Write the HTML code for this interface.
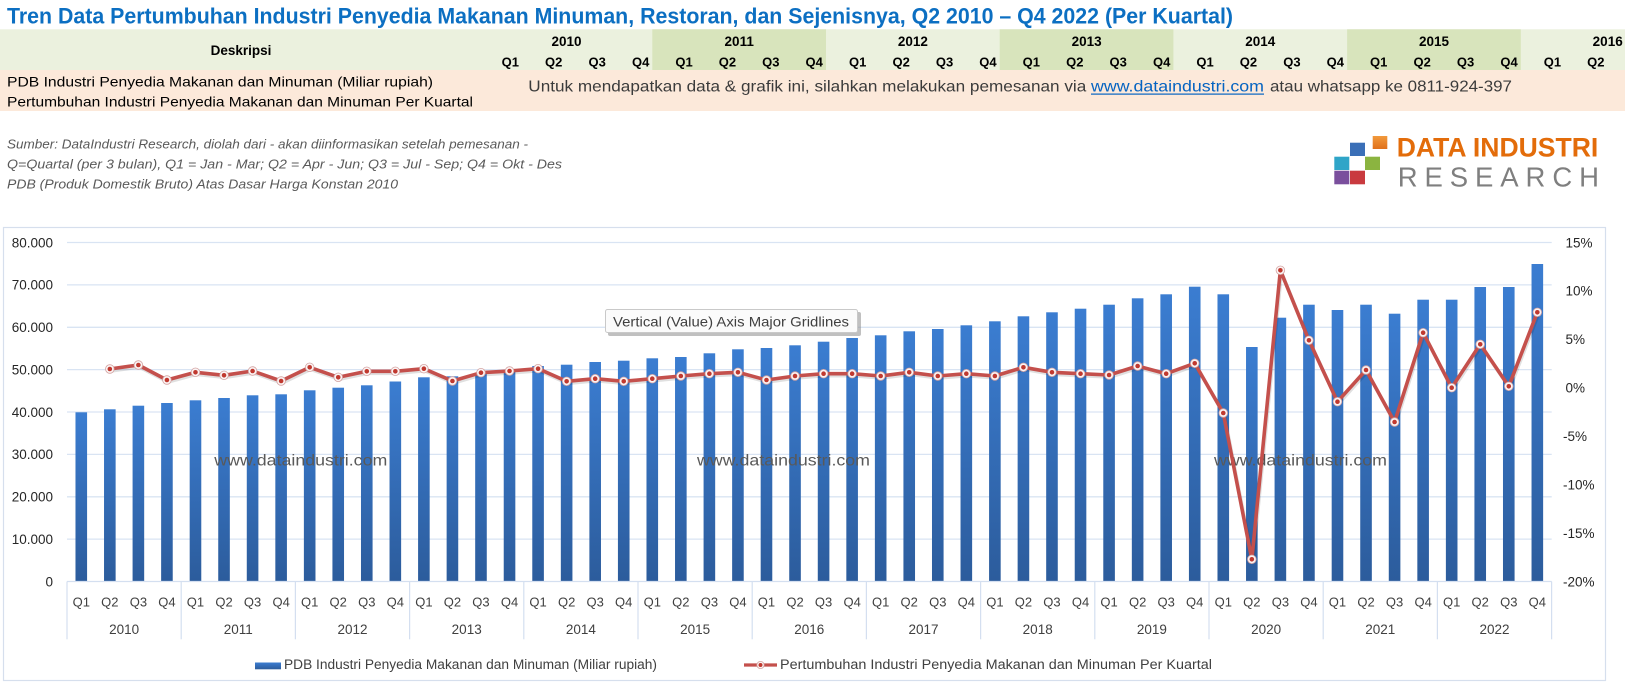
<!DOCTYPE html>
<html>
<head>
<meta charset="utf-8">
<style>
html,body{margin:0;padding:0;background:#fff;}
svg{display:block;}
text{font-family:"Liberation Sans",Arial,sans-serif;}
</style>
</head>
<body>
<svg width="1625" height="685" viewBox="0 0 1625 685" xmlns="http://www.w3.org/2000/svg">
<defs>
<linearGradient id="bar" x1="0" y1="0" x2="0" y2="1">
<stop offset="0" stop-color="#3b7dd1"/>
<stop offset="1" stop-color="#2c5c9c"/>
</linearGradient>
<linearGradient id="og" x1="0" y1="0" x2="0" y2="1"><stop offset="0" stop-color="#f29a3c"/><stop offset="1" stop-color="#e0701a"/></linearGradient>
<marker id="mk" markerWidth="12" markerHeight="12" refX="6" refY="6" markerUnits="userSpaceOnUse">
<circle cx="6" cy="6" r="4.3" fill="#fbf4f4" stroke="#d3a3a2" stroke-width="0.8"/>
<circle cx="6" cy="6" r="2.3" fill="#c0392f"/>
</marker>
</defs>

<!-- Title -->
<text x="7" y="23.3" font-size="22" font-weight="bold" fill="#0c6fc2" textLength="1226" lengthAdjust="spacingAndGlyphs">Tren Data Pertumbuhan Industri Penyedia Makanan Minuman, Restoran, dan Sejenisnya, Q2 2010 – Q4 2022 (Per Kuartal)</text>

<!-- Header band -->
<rect x="0" y="29.3" width="1625" height="40.7" fill="#ebf1de"/>
<rect x="652.3" y="29.3" width="173.7" height="40.7" fill="#d8e4bc"/>
<rect x="999.7" y="29.3" width="173.7" height="40.7" fill="#d8e4bc"/>
<rect x="1347.1" y="29.3" width="173.7" height="40.7" fill="#d8e4bc"/>
<text x="241" y="55" font-size="13.5" font-weight="bold" text-anchor="middle" fill="#000">Deskripsi</text>
<g font-size="13.5" font-weight="bold" text-anchor="middle" fill="#000">
<text x="566.5" y="46">2010</text>
<text x="739.2" y="46">2011</text>
<text x="912.9" y="46">2012</text>
<text x="1086.6" y="46">2013</text>
<text x="1260.3" y="46">2014</text>
<text x="1434" y="46">2015</text>
<text x="1607.7" y="46">2016</text>
</g>
<g font-size="13" font-weight="bold" text-anchor="end" fill="#000">
<text x="519.0" y="66.7">Q1</text><text x="562.4" y="66.7">Q2</text><text x="605.8" y="66.7">Q3</text><text x="649.3" y="66.7">Q4</text>
<text x="692.7" y="66.7">Q1</text><text x="736.1" y="66.7">Q2</text><text x="779.5" y="66.7">Q3</text><text x="822.9" y="66.7">Q4</text>
<text x="866.4" y="66.7">Q1</text><text x="909.8" y="66.7">Q2</text><text x="953.2" y="66.7">Q3</text><text x="996.6" y="66.7">Q4</text>
<text x="1040.0" y="66.7">Q1</text><text x="1083.5" y="66.7">Q2</text><text x="1126.9" y="66.7">Q3</text><text x="1170.3" y="66.7">Q4</text>
<text x="1213.7" y="66.7">Q1</text><text x="1257.1" y="66.7">Q2</text><text x="1300.6" y="66.7">Q3</text><text x="1344.0" y="66.7">Q4</text>
<text x="1387.4" y="66.7">Q1</text><text x="1430.8" y="66.7">Q2</text><text x="1474.2" y="66.7">Q3</text><text x="1517.7" y="66.7">Q4</text>
<text x="1561.1" y="66.7">Q1</text><text x="1604.5" y="66.7">Q2</text>
</g>

<!-- Pink rows -->
<rect x="0" y="70" width="1625" height="41" fill="#fce9da"/>
<text x="7" y="86.7" font-size="14" fill="#000" textLength="426" lengthAdjust="spacingAndGlyphs">PDB Industri Penyedia Makanan dan Minuman (Miliar rupiah)</text>
<text x="7" y="106.7" font-size="14" fill="#000" textLength="466" lengthAdjust="spacingAndGlyphs">Pertumbuhan Industri Penyedia Makanan dan Minuman Per Kuartal</text>
<text x="528.3" y="91.7" font-size="16" fill="#3b3b3b" textLength="558" lengthAdjust="spacingAndGlyphs">Untuk mendapatkan data &amp; grafik ini, silahkan melakukan pemesanan via</text>
<text x="1091" y="91.7" font-size="16" fill="#0563c1" textLength="173" lengthAdjust="spacingAndGlyphs">www.dataindustri.com</text>
<rect x="1091" y="93.5" width="173" height="1.2" fill="#0563c1"/>
<text x="1270" y="91.7" font-size="16" fill="#3b3b3b" textLength="242" lengthAdjust="spacingAndGlyphs">atau whatsapp ke 0811-924-397</text>

<!-- Source notes -->
<g font-size="13" font-style="italic" fill="#595959">
<text x="7" y="148.3" textLength="521" lengthAdjust="spacingAndGlyphs">Sumber: DataIndustri Research, diolah dari - akan diinformasikan setelah pemesanan -</text>
<text x="7" y="168.3" textLength="555" lengthAdjust="spacingAndGlyphs">Q=Quartal (per 3 bulan), Q1 = Jan - Mar; Q2 = Apr - Jun; Q3 = Jul - Sep; Q4 = Okt - Des</text>
<text x="7" y="188.3" textLength="391" lengthAdjust="spacingAndGlyphs">PDB (Produk Domestik Bruto) Atas Dasar Harga Konstan 2010</text>
</g>

<!-- Logo -->
<rect x="1372.7" y="136" width="14.6" height="13" fill="url(#og)"/>
<rect x="1350" y="142.7" width="15" height="13.3" fill="#3a6fb7"/>
<rect x="1334.3" y="156.7" width="15" height="13.3" fill="#2fa5c8"/>
<rect x="1365" y="156.7" width="15" height="13.3" fill="#8bb440"/>
<rect x="1334.3" y="170.7" width="15" height="13.6" fill="#7a4f9d"/>
<rect x="1350" y="170.7" width="15" height="13.6" fill="#c93a3f"/>
<text x="1396.7" y="156.7" font-size="26.5" font-weight="bold" fill="#e36c0a" textLength="201.6" lengthAdjust="spacingAndGlyphs">DATA INDUSTRI</text>
<text x="1397.7" y="186.7" font-size="27.5" fill="#7f7f7f" textLength="201.3" lengthAdjust="spacing">RESEARCH</text>

<!-- Chart area -->
<rect x="3.5" y="227.5" width="1602" height="453" fill="#fff" stroke="#d6dfed" stroke-width="1.2"/>

<!-- gridlines -->
<g stroke="#d9e4f3" stroke-width="1.3">
<line x1="67" y1="242.5" x2="1551.7" y2="242.5"/>
<line x1="67" y1="284.9" x2="1551.7" y2="284.9"/>
<line x1="67" y1="327.3" x2="1551.7" y2="327.3"/>
<line x1="67" y1="369.6" x2="1551.7" y2="369.6"/>
<line x1="67" y1="412.0" x2="1551.7" y2="412.0"/>
<line x1="67" y1="454.4" x2="1551.7" y2="454.4"/>
<line x1="67" y1="496.8" x2="1551.7" y2="496.8"/>
<line x1="67" y1="539.1" x2="1551.7" y2="539.1"/>
</g>

<!-- left axis labels -->
<g font-size="13.5" fill="#262626" text-anchor="end">
<text x="53" y="247.3">80.000</text>
<text x="53" y="289.7">70.000</text>
<text x="53" y="332.1">60.000</text>
<text x="53" y="374.4">50.000</text>
<text x="53" y="416.8">40.000</text>
<text x="53" y="459.2">30.000</text>
<text x="53" y="501.6">20.000</text>
<text x="53" y="543.9">10.000</text>
<text x="53" y="586.3">0</text>
</g>
<!-- right axis labels -->
<g font-size="13.5" fill="#262626">
<text x="1565.5" y="247.3">15%</text>
<text x="1565.5" y="295.7">10%</text>
<text x="1565.5" y="344.2">5%</text>
<text x="1565.5" y="392.6">0%</text>
<text x="1563" y="441">-5%</text>
<text x="1563" y="489.5">-10%</text>
<text x="1563" y="537.9">-15%</text>
<text x="1563" y="586.3">-20%</text>
</g>

<!-- bars -->
<g fill="url(#bar)">
<rect x="75.48" y="412.3" width="11.6" height="169.2"/>
<rect x="104.03" y="409.3" width="11.6" height="172.2"/>
<rect x="132.58" y="405.7" width="11.6" height="175.8"/>
<rect x="161.13" y="403.0" width="11.6" height="178.5"/>
<rect x="189.68" y="400.3" width="11.6" height="181.2"/>
<rect x="218.23" y="398.0" width="11.6" height="183.5"/>
<rect x="246.78" y="395.3" width="11.6" height="186.2"/>
<rect x="275.33" y="394.3" width="11.6" height="187.2"/>
<rect x="303.88" y="390.3" width="11.6" height="191.2"/>
<rect x="332.43" y="387.7" width="11.6" height="193.8"/>
<rect x="360.98" y="385.3" width="11.6" height="196.2"/>
<rect x="389.53" y="381.5" width="11.6" height="200.0"/>
<rect x="418.08" y="377.3" width="11.6" height="204.2"/>
<rect x="446.63" y="376.3" width="11.6" height="205.2"/>
<rect x="475.18" y="373.5" width="11.6" height="208.0"/>
<rect x="503.73" y="370.5" width="11.6" height="211.0"/>
<rect x="532.28" y="366.0" width="11.6" height="215.5"/>
<rect x="560.83" y="364.7" width="11.6" height="216.8"/>
<rect x="589.38" y="362.0" width="11.6" height="219.5"/>
<rect x="617.93" y="360.7" width="11.6" height="220.8"/>
<rect x="646.48" y="358.3" width="11.6" height="223.2"/>
<rect x="675.03" y="357.0" width="11.6" height="224.5"/>
<rect x="703.58" y="353.3" width="11.6" height="228.2"/>
<rect x="732.13" y="349.3" width="11.6" height="232.2"/>
<rect x="760.68" y="348.0" width="11.6" height="233.5"/>
<rect x="789.23" y="345.3" width="11.6" height="236.2"/>
<rect x="817.78" y="341.7" width="11.6" height="239.8"/>
<rect x="846.33" y="338.0" width="11.6" height="243.5"/>
<rect x="874.88" y="335.3" width="11.6" height="246.2"/>
<rect x="903.43" y="331.3" width="11.6" height="250.2"/>
<rect x="931.98" y="329.0" width="11.6" height="252.5"/>
<rect x="960.53" y="325.3" width="11.6" height="256.2"/>
<rect x="989.08" y="321.3" width="11.6" height="260.2"/>
<rect x="1017.63" y="316.3" width="11.6" height="265.2"/>
<rect x="1046.18" y="312.3" width="11.6" height="269.2"/>
<rect x="1074.73" y="308.7" width="11.6" height="272.8"/>
<rect x="1103.28" y="304.7" width="11.6" height="276.8"/>
<rect x="1131.83" y="298.3" width="11.6" height="283.2"/>
<rect x="1160.38" y="294.3" width="11.6" height="287.2"/>
<rect x="1188.93" y="286.7" width="11.6" height="294.8"/>
<rect x="1217.48" y="294.3" width="11.6" height="287.2"/>
<rect x="1246.03" y="347.0" width="11.6" height="234.5"/>
<rect x="1274.58" y="317.7" width="11.6" height="263.8"/>
<rect x="1303.13" y="304.7" width="11.6" height="276.8"/>
<rect x="1331.68" y="310.0" width="11.6" height="271.5"/>
<rect x="1360.23" y="304.7" width="11.6" height="276.8"/>
<rect x="1388.78" y="313.7" width="11.6" height="267.8"/>
<rect x="1417.33" y="299.7" width="11.6" height="281.8"/>
<rect x="1445.88" y="299.7" width="11.6" height="281.8"/>
<rect x="1474.43" y="287.0" width="11.6" height="294.5"/>
<rect x="1502.98" y="287.0" width="11.6" height="294.5"/>
<rect x="1531.53" y="264.0" width="11.6" height="317.5"/>
</g>

<!-- watermarks -->
<g font-size="16" fill="#595959">
<text x="214.3" y="465.5" textLength="173" lengthAdjust="spacingAndGlyphs">www.dataindustri.com</text>
<text x="697" y="465.5" textLength="173" lengthAdjust="spacingAndGlyphs">www.dataindustri.com</text>
<text x="1214" y="465.5" textLength="173" lengthAdjust="spacingAndGlyphs">www.dataindustri.com</text>
</g>

<!-- category axis -->
<g stroke="#d4dff0" stroke-width="1.2">
<line x1="67" y1="581.5" x2="1551.7" y2="581.5"/>
<line x1="67" y1="581.5" x2="67" y2="639.3"/>
<line x1="181.2" y1="581.5" x2="181.2" y2="639.3"/>
<line x1="295.4" y1="581.5" x2="295.4" y2="639.3"/>
<line x1="409.6" y1="581.5" x2="409.6" y2="639.3"/>
<line x1="523.8" y1="581.5" x2="523.8" y2="639.3"/>
<line x1="638" y1="581.5" x2="638" y2="639.3"/>
<line x1="752.2" y1="581.5" x2="752.2" y2="639.3"/>
<line x1="866.4" y1="581.5" x2="866.4" y2="639.3"/>
<line x1="980.6" y1="581.5" x2="980.6" y2="639.3"/>
<line x1="1094.8" y1="581.5" x2="1094.8" y2="639.3"/>
<line x1="1209" y1="581.5" x2="1209" y2="639.3"/>
<line x1="1323.2" y1="581.5" x2="1323.2" y2="639.3"/>
<line x1="1437.4" y1="581.5" x2="1437.4" y2="639.3"/>
<line x1="1551.6" y1="581.5" x2="1551.6" y2="639.3"/>
</g>

<g font-size="13" fill="#404040" text-anchor="middle">
<text x="81.28" y="606.5">Q1</text><text x="109.83" y="606.5">Q2</text><text x="138.38" y="606.5">Q3</text><text x="166.93" y="606.5">Q4</text>
<text x="195.48" y="606.5">Q1</text><text x="224.03" y="606.5">Q2</text><text x="252.58" y="606.5">Q3</text><text x="281.13" y="606.5">Q4</text>
<text x="309.68" y="606.5">Q1</text><text x="338.23" y="606.5">Q2</text><text x="366.78" y="606.5">Q3</text><text x="395.33" y="606.5">Q4</text>
<text x="423.88" y="606.5">Q1</text><text x="452.43" y="606.5">Q2</text><text x="480.98" y="606.5">Q3</text><text x="509.53" y="606.5">Q4</text>
<text x="538.08" y="606.5">Q1</text><text x="566.63" y="606.5">Q2</text><text x="595.18" y="606.5">Q3</text><text x="623.73" y="606.5">Q4</text>
<text x="652.28" y="606.5">Q1</text><text x="680.83" y="606.5">Q2</text><text x="709.38" y="606.5">Q3</text><text x="737.93" y="606.5">Q4</text>
<text x="766.48" y="606.5">Q1</text><text x="795.03" y="606.5">Q2</text><text x="823.58" y="606.5">Q3</text><text x="852.13" y="606.5">Q4</text>
<text x="880.68" y="606.5">Q1</text><text x="909.23" y="606.5">Q2</text><text x="937.78" y="606.5">Q3</text><text x="966.33" y="606.5">Q4</text>
<text x="994.88" y="606.5">Q1</text><text x="1023.43" y="606.5">Q2</text><text x="1051.98" y="606.5">Q3</text><text x="1080.53" y="606.5">Q4</text>
<text x="1109.08" y="606.5">Q1</text><text x="1137.63" y="606.5">Q2</text><text x="1166.18" y="606.5">Q3</text><text x="1194.73" y="606.5">Q4</text>
<text x="1223.28" y="606.5">Q1</text><text x="1251.83" y="606.5">Q2</text><text x="1280.38" y="606.5">Q3</text><text x="1308.93" y="606.5">Q4</text>
<text x="1337.48" y="606.5">Q1</text><text x="1366.03" y="606.5">Q2</text><text x="1394.58" y="606.5">Q3</text><text x="1423.13" y="606.5">Q4</text>
<text x="1451.68" y="606.5">Q1</text><text x="1480.23" y="606.5">Q2</text><text x="1508.78" y="606.5">Q3</text><text x="1537.33" y="606.5">Q4</text>
</g>
<g font-size="13.5" fill="#404040" text-anchor="middle">
<text x="124.1" y="634">2010</text>
<text x="238.3" y="634">2011</text>
<text x="352.5" y="634">2012</text>
<text x="466.7" y="634">2013</text>
<text x="580.9" y="634">2014</text>
<text x="695.1" y="634">2015</text>
<text x="809.3" y="634">2016</text>
<text x="923.5" y="634">2017</text>
<text x="1037.7" y="634">2018</text>
<text x="1151.9" y="634">2019</text>
<text x="1266.1" y="634">2020</text>
<text x="1380.3" y="634">2021</text>
<text x="1494.5" y="634">2022</text>
</g>

<!-- line series -->
<polyline fill="none" stroke="#000" stroke-opacity="0.12" stroke-width="3.6" stroke-linejoin="round" transform="translate(1,2)" points="109.83,369.0 138.38,365.0 166.93,380.0 195.48,372.3 224.03,375.3 252.58,371.0 281.13,381.0 309.68,367.3 338.23,377.3 366.78,371.3 395.33,371.3 423.88,368.7 452.43,381.0 480.98,372.7 509.53,371.0 538.08,368.7 566.63,381.3 595.18,378.7 623.73,381.3 652.28,378.7 680.83,376.0 709.38,373.7 737.93,372.3 766.48,380.0 795.03,376.0 823.58,373.7 852.13,373.7 880.68,376.0 909.23,372.3 937.78,376.0 966.33,373.7 994.88,376.0 1023.43,367.3 1051.98,372.3 1080.53,373.7 1109.08,375.0 1137.63,366.0 1166.18,373.7 1194.73,363.3 1223.28,413.0 1251.83,559.3 1280.38,270.3 1308.93,340.3 1337.48,401.7 1366.03,370.0 1394.58,422.0 1423.13,332.7 1451.68,387.7 1480.23,344.3 1508.78,386.3 1537.33,312.3"/>
<polyline fill="none" stroke="#c4504c" stroke-width="3.6" stroke-linejoin="round" marker-start="url(#mk)" marker-mid="url(#mk)" marker-end="url(#mk)" points="109.83,369.0 138.38,365.0 166.93,380.0 195.48,372.3 224.03,375.3 252.58,371.0 281.13,381.0 309.68,367.3 338.23,377.3 366.78,371.3 395.33,371.3 423.88,368.7 452.43,381.0 480.98,372.7 509.53,371.0 538.08,368.7 566.63,381.3 595.18,378.7 623.73,381.3 652.28,378.7 680.83,376.0 709.38,373.7 737.93,372.3 766.48,380.0 795.03,376.0 823.58,373.7 852.13,373.7 880.68,376.0 909.23,372.3 937.78,376.0 966.33,373.7 994.88,376.0 1023.43,367.3 1051.98,372.3 1080.53,373.7 1109.08,375.0 1137.63,366.0 1166.18,373.7 1194.73,363.3 1223.28,413.0 1251.83,559.3 1280.38,270.3 1308.93,340.3 1337.48,401.7 1366.03,370.0 1394.58,422.0 1423.13,332.7 1451.68,387.7 1480.23,344.3 1508.78,386.3 1537.33,312.3"/>

<!-- tooltip -->
<rect x="608" y="312" width="253" height="24" rx="2" fill="#8c8c8c" fill-opacity="0.55"/>
<rect x="605.5" y="309.5" width="252" height="23" rx="2" fill="#fbfbfb" stroke="#c9c9c9" stroke-width="1"/>
<text x="613" y="326.5" font-size="14" fill="#404040" textLength="236" lengthAdjust="spacingAndGlyphs">Vertical (Value) Axis Major Gridlines</text>

<!-- legend -->
<rect x="255" y="662.5" width="26" height="6.8" fill="url(#bar)"/>
<text x="284" y="669" font-size="13.5" fill="#404040" textLength="373" lengthAdjust="spacingAndGlyphs">PDB Industri Penyedia Makanan dan Minuman (Miliar rupiah)</text>
<line x1="744" y1="665" x2="777" y2="665" stroke="#c4504c" stroke-width="3.2"/>
<circle cx="760.5" cy="665" r="3.6" fill="#fbf4f4" stroke="#d3a3a2" stroke-width="0.8"/>
<circle cx="760.5" cy="665" r="2" fill="#c0392f"/>
<text x="780" y="669" font-size="13.5" fill="#404040" textLength="432" lengthAdjust="spacingAndGlyphs">Pertumbuhan Industri Penyedia Makanan dan Minuman Per Kuartal</text>
</svg>
</body>
</html>
